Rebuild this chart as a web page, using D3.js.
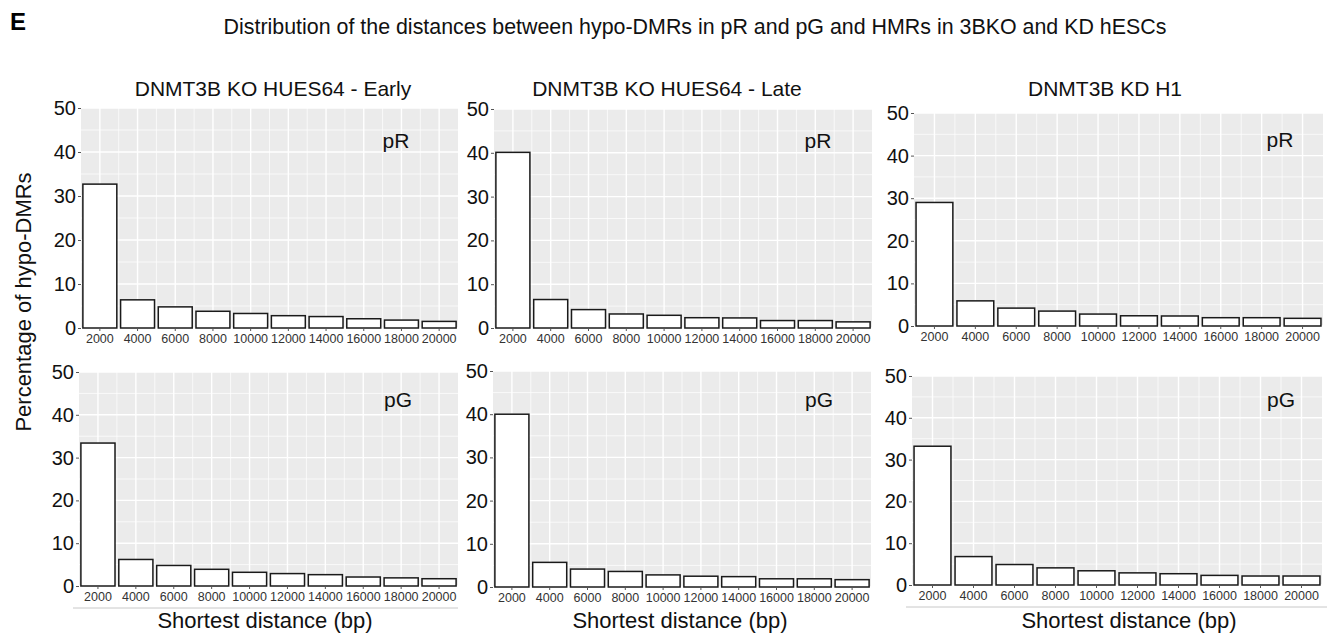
<!DOCTYPE html>
<html>
<head>
<meta charset="utf-8">
<script src="https://cdn.jsdelivr.net/npm/d3@7"></script>
<style>
body{margin:0;background:#fff;}
svg{display:block;font-family:"Liberation Sans",Arial,sans-serif;}
</style>
</head>
<body>
<div class="viz"></div>
<script>
// distance bins (bp) and y ticks
const bins=[2000,4000,6000,8000,10000,12000,14000,16000,18000,20000];
const yTicks=[0,10,20,30,40,50];
const colTitles=['DNMT3B KO HUES64 - Early','DNMT3B KO HUES64 - Late','DNMT3B KD H1'];
const rowLabels=['pR','pG'];

// percentage of hypo-DMRs per bin
const earlyPR=[32.7,6.4,4.8,3.8,3.3,2.8,2.6,2.1,1.8,1.5];
const latePR=[40.1,6.5,4.2,3.2,2.9,2.35,2.3,1.7,1.7,1.4];
const kdPR=[29.0,5.9,4.2,3.5,2.8,2.4,2.35,1.95,1.95,1.8];
const earlyPG=[33.4,6.2,4.8,3.9,3.2,2.9,2.65,2.1,1.9,1.7];
const latePG=[40.0,5.7,4.15,3.6,2.8,2.5,2.4,1.9,1.9,1.7];
const kdPG=[33.2,6.8,4.9,4.1,3.4,2.9,2.7,2.3,2.15,2.15];

const width=1339, height=636;

// panel boxes (scanned figure, so not perfectly regular)
const panels=[
	{row:0,col:0,vals:earlyPR,x0:81,x1:458,y0:108,y1:328,tx:273,lx:396,ly:141},
	{row:0,col:1,vals:latePR,x0:494,x1:872,y0:109,y1:328,tx:667,lx:818,ly:141},
	{row:0,col:2,vals:kdPR,x0:914,x1:1323,y0:113,y1:326,tx:1105,lx:1280,ly:140},
	{row:1,col:0,vals:earlyPG,x0:79,x1:458,y0:372,y1:586,tx:265,lx:398,ly:400,rule:[73,458,608]},
	{row:1,col:1,vals:latePG,x0:493,x1:871,y0:371,y1:587,tx:680,lx:819,ly:400},
	{row:1,col:2,vals:kdPG,x0:912,x1:1322,y0:376,y1:585,tx:1129,lx:1281,ly:400,rule:[906,1327,607]}
];

const svg=d3.select('.viz').append('svg')
	.attr('width',width)
	.attr('height',height)

svg.append('text')
	.attr('x',10).attr('y',30)
	.attr('font-size',24).attr('font-weight','bold')
	.text('E')

svg.append('text')
	.attr('x',695).attr('y',34)
	.attr('text-anchor','middle')
	.attr('font-size',21.4)
	.attr('fill','#111')
	.text('Distribution of the distances between hypo-DMRs in pR and pG and HMRs in 3BKO and KD hESCs')

svg.append('text')
	.attr('transform','translate(31,302) rotate(-90)')
	.attr('text-anchor','middle')
	.attr('font-size',22)
	.attr('fill','#111')
	.text('Percentage of hypo-DMRs')

panels.forEach(p=>{
	const g=svg.append('g')

	const x=d3.scaleBand()
		.domain(bins)
		.range([p.x0,p.x1])
		.paddingInner(0.1)
		.paddingOuter(0.05)

	const y=d3.scaleLinear()
		.domain([0,50])
		.range([p.y1,p.y0])

	g.append('rect')
		.attr('x',p.x0).attr('y',p.y0)
		.attr('width',p.x1-p.x0).attr('height',p.y1-p.y0)
		.attr('fill','#ebebeb')

	// minor grid
	const minorY=d3.range(5,50,10);
	g.selectAll('.minorY')
		.data(minorY)
		.join('line')
		.attr('x1',p.x0).attr('x2',p.x1)
		.attr('y1',d=>y(d)).attr('y2',d=>y(d))
		.attr('stroke','#fff').attr('stroke-width',0.7)

	const minorX=bins.slice(1).map((b,i)=>(x(bins[i])+x.bandwidth()/2+x(b)+x.bandwidth()/2)/2);
	g.selectAll('.minorX')
		.data(minorX)
		.join('line')
		.attr('x1',d=>d).attr('x2',d=>d)
		.attr('y1',p.y0).attr('y2',p.y1)
		.attr('stroke','#fff').attr('stroke-width',0.7)

	// major grid
	g.selectAll('.majorY')
		.data(yTicks)
		.join('line')
		.attr('x1',p.x0).attr('x2',p.x1)
		.attr('y1',d=>y(d)).attr('y2',d=>y(d))
		.attr('stroke','#fff').attr('stroke-width',1.4)

	g.selectAll('.majorX')
		.data(bins)
		.join('line')
		.attr('x1',d=>x(d)+x.bandwidth()/2).attr('x2',d=>x(d)+x.bandwidth()/2)
		.attr('y1',p.y0).attr('y2',p.y1)
		.attr('stroke','#fff').attr('stroke-width',1.4)

	// bars
	g.selectAll('.bar')
		.data(p.vals)
		.join('rect')
		.attr('x',(d,i)=>x(bins[i]))
		.attr('y',d=>y(d))
		.attr('width',x.bandwidth())
		.attr('height',d=>p.y1-y(d))
		.attr('fill','#fff')
		.attr('stroke','#1a1a1a')
		.attr('stroke-width',1.5)

	// y axis
	const ya=g.append('g')
		.attr('transform',`translate(${p.x0},0)`)
		.call(d3.axisLeft(y).tickValues(yTicks).tickSize(3).tickPadding(2))
	ya.select('.domain').remove()
	ya.selectAll('line').attr('stroke','#555')
	ya.selectAll('text')
		.attr('font-size',20)
		.attr('font-family','"Liberation Sans",Arial,sans-serif')
		.attr('fill','#111')

	// x axis
	const xa=g.append('g')
		.attr('transform',`translate(0,${p.y1})`)
		.call(d3.axisBottom(x).tickSize(3).tickPadding(3))
	xa.select('.domain').remove()
	xa.selectAll('line').attr('stroke','#555')
	xa.selectAll('text')
		.attr('font-size',12.5)
		.attr('font-family','"Liberation Sans",Arial,sans-serif')
		.attr('fill','#333')

	// facet label
	g.append('text')
		.attr('x',p.lx)
		.attr('y',p.ly)
		.attr('dy','0.35em')
		.attr('text-anchor','middle')
		.attr('font-size',21)
		.attr('fill','#111')
		.text(rowLabels[p.row])

	if(p.row===0){
		g.append('text')
			.attr('x',p.tx)
			.attr('y',96)
			.attr('text-anchor','middle')
			.attr('font-size',21)
			.attr('fill','#111')
			.text(colTitles[p.col])
	} else {
		g.append('text')
			.attr('x',p.tx)
			.attr('y',628)
			.attr('text-anchor','middle')
			.attr('font-size',22)
			.attr('fill','#111')
			.text('Shortest distance (bp)')
	}

	if(p.rule){
		g.append('line')
			.attr('x1',p.rule[0]).attr('x2',p.rule[1])
			.attr('y1',p.rule[2]).attr('y2',p.rule[2])
			.attr('stroke','#c8c8c8').attr('stroke-width',1)
	}
})
</script>
</body>
</html>
